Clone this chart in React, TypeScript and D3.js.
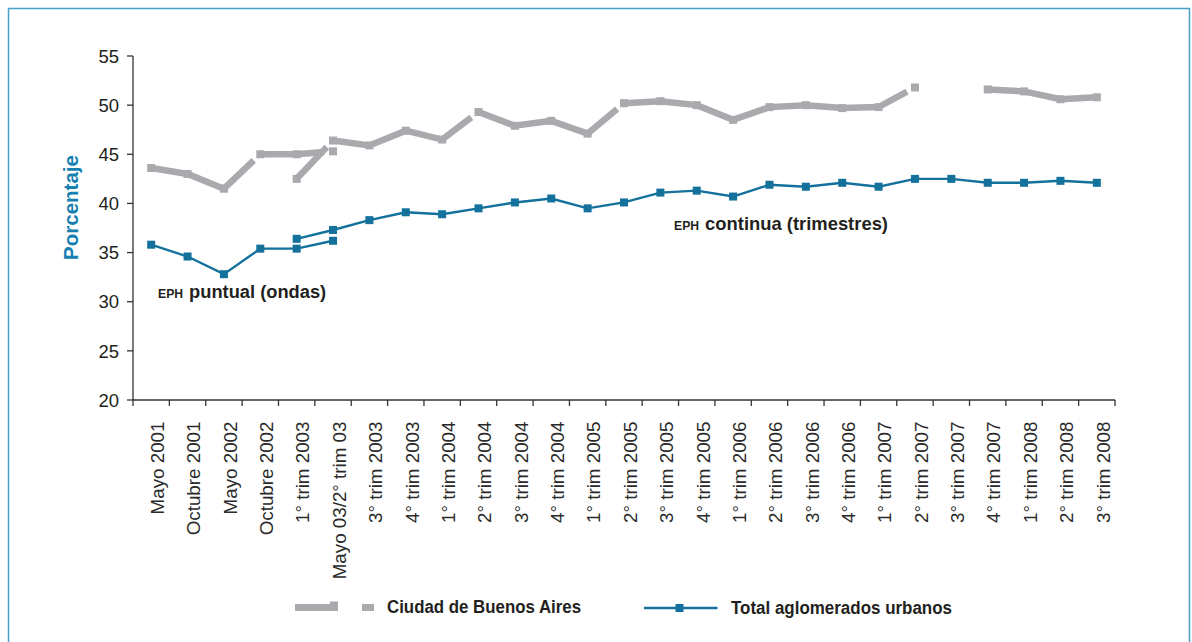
import React from "react";
import * as d3 from "d3";

const categories = [
  "Mayo 2001", "Octubre 2001", "Mayo 2002", "Octubre 2002", "1° trim 2003",
  "Mayo 03/2° trim 03", "3° trim 2003", "4° trim 2003", "1° trim 2004", "2° trim 2004",
  "3° trim 2004", "4° trim 2004", "1° trim 2005", "2° trim 2005", "3° trim 2005",
  "4° trim 2005", "1° trim 2006", "2° trim 2006", "3° trim 2006", "4° trim 2006",
  "1° trim 2007", "2° trim 2007", "3° trim 2007", "4° trim 2007", "1° trim 2008",
  "2° trim 2008", "3° trim 2008",
];

// EPH puntual (ondas): indices 0..5
const totalOndas = [35.8, 34.6, 32.8, 35.4, 35.4, 36.2];
const caOndas = [43.6, 43.0, 41.5, 45.0, 45.0, 45.3];
// EPH continua (trimestres): indices 4..26
const continuaStart = 4;
const totalTrim = [36.4, 37.3, 38.3, 39.1, 38.9, 39.5, 40.1, 40.5, 39.5, 40.1, 41.1, 41.3, 40.7, 41.9, 41.7, 42.1, 41.7, 42.5, 42.5, 42.1, 42.1, 42.3, 42.1];
const caTrim: (number | null)[] = [42.5, 46.4, 45.9, 47.4, 46.5, 49.3, 47.9, 48.4, 47.1, 50.2, 50.4, 50.0, 48.5, 49.8, 50.0, 49.7, 49.8, 51.8, null, 51.6, 51.4, 50.6, 50.8];
// category indices where the gray line is interrupted just before the point
const caBreaks = [3, 5, 9, 13, 21];

const yTicks = [20, 25, 30, 35, 40, 45, 50, 55];

const BLUE = "#13719c";
const GRAY = "#a9aaae";
const TEXT = "#231f20";

type Pt = { i: number; v: number };

function toPts(vals: (number | null)[], start: number): Pt[] {
  return vals.map((v, k) => ({ i: start + k, v: v as number })).filter((p) => p.v != null);
}

export default function App() {
  const W = 1192, H = 642;
  const x0 = 133, x1 = 1115, yTop = 56, yBot = 400;
  const x = d3.scaleBand<string>().domain(categories).range([x0, x1]).paddingInner(0).paddingOuter(0);
  const y = d3.scaleLinear().domain([20, 55]).range([yBot, yTop]);
  const cx = (i: number) => (x(categories[i]) as number) + x.bandwidth() / 2;
  const line = d3.line<[number, number]>().x((d) => d[0]).y((d) => d[1]);

  const totalPuntual = toPts(totalOndas, 0);
  const totalCont = toPts(totalTrim, continuaStart);
  const caPuntual = toPts(caOndas, 0);
  const caCont = toPts(caTrim, continuaStart);

  // Build gray paths: split at missing values and cut short before break points
  const GAP = 9;
  function grayPaths(pts: Pt[]): string[] {
    const paths: [number, number][][] = [];
    let cur: [number, number][] = [];
    for (let k = 0; k < pts.length; k++) {
      const p = pts[k];
      const P: [number, number] = [cx(p.i), y(p.v)];
      if (k > 0) {
        const prev = pts[k - 1];
        if (p.i - prev.i > 1) {
          if (cur.length) paths.push(cur);
          cur = [P];
          continue;
        }
        if (caBreaks.includes(p.i)) {
          const Q: [number, number] = [cx(prev.i), y(prev.v)];
          const dx = P[0] - Q[0], dy = P[1] - Q[1];
          const len = Math.hypot(dx, dy);
          const f = (len - GAP) / len;
          cur.push([Q[0] + dx * f, Q[1] + dy * f]);
          paths.push(cur);
          cur = [P];
          continue;
        }
      }
      cur.push(P);
    }
    if (cur.length) paths.push(cur);
    return paths.filter((c) => c.length > 1).map((c) => line(c) as string);
  }

  const grayAll = [...grayPaths(caPuntual), ...grayPaths(caCont)];
  const grayMarkers = [...caPuntual, ...caCont];
  const MS = 8;
  const SANS = "'Liberation Sans', Arial, sans-serif";

  return (
    <svg width={W} height={H} style={{ position: "absolute", left: 0, top: 0, background: "#fff" }}
      fontFamily={SANS}>
      <rect x={8.5} y={8.5} width={1181} height={660} fill="none" stroke="#4a9fc6" strokeWidth={1.5} />

      {/* Y axis */}
      <line x1={x0} x2={x0} y1={yTop} y2={yBot} stroke="#333" strokeWidth={1.3} />
      {yTicks.map((t) => (
        <g key={t}>
          <line x1={x0 - 6} x2={x0} y1={y(t)} y2={y(t)} stroke="#333" strokeWidth={1.3} />
          <text x={119} y={y(t)} dy="0.36em" textAnchor="end" fontSize={18.5} fill={TEXT}>{t}</text>
        </g>
      ))}
      <text transform={`translate(78,207.5) rotate(-90)`} textAnchor="middle"
        fontSize={20.5} fontWeight="bold" fill="#1680b0">Porcentaje</text>

      {/* X axis */}
      <line x1={x0} x2={x1} y1={yBot} y2={yBot} stroke="#333" strokeWidth={1.3} />
      {d3.range(categories.length + 1).map((k) => {
        const xx = x0 + k * x.step();
        return <line key={k} x1={xx} x2={xx} y1={yBot} y2={yBot + 6} stroke="#333" strokeWidth={1.3} />;
      })}
      {categories.map((c, i) => (
        <text key={c} transform={`translate(${cx(i) + 6},${yBot + 21.5}) rotate(-90)`} dy="0.36em"
          textAnchor="end" fontSize={18.8} fill="#2a2a2a">{c}</text>
      ))}

      {/* Gray series */}
      {grayAll.map((d, k) => (
        <path key={k} d={d} fill="none" stroke={GRAY} strokeWidth={6.5} strokeLinejoin="miter" />
      ))}
      {grayMarkers.map((p, k) => (
        <rect key={k} x={cx(p.i) - MS / 2} y={y(p.v) - MS / 2} width={MS} height={MS} fill={GRAY} />
      ))}

      {/* Blue series */}
      {[totalPuntual, totalCont].map((pts, k) => (
        <path key={k} d={line(pts.map((p) => [cx(p.i), y(p.v)] as [number, number])) as string}
          fill="none" stroke={BLUE} strokeWidth={2.4} />
      ))}
      {[...totalPuntual, ...totalCont].map((p, k) => (
        <rect key={k} x={cx(p.i) - MS / 2} y={y(p.v) - MS / 2} width={MS} height={MS} fill={BLUE} />
      ))}

      {/* Annotations */}
      <text x={158} y={298} fill={TEXT} fontWeight="bold">
        <tspan fontSize={12.2}>EPH</tspan>
        <tspan fontSize={18.3} dx={6}>puntual (ondas)</tspan>
      </text>
      <text x={674} y={230} fill={TEXT} fontWeight="bold">
        <tspan fontSize={12.2}>EPH</tspan>
        <tspan fontSize={18.4} dx={6}>continua (trimestres)</tspan>
      </text>

      {/* Legend */}
      <line x1={295} x2={338} y1={607.5} y2={607.5} stroke={GRAY} strokeWidth={7} />
      <rect x={330} y={601.5} width={8} height={9} fill={GRAY} />
      <rect x={362} y={604} width={12} height={7} fill={GRAY} />
      <text x={387} y={613.3} fontSize={17.5} fontWeight="bold" fill={TEXT}
        textLength={194} lengthAdjust="spacingAndGlyphs">Ciudad de Buenos Aires</text>
      <line x1={644} x2={717.5} y1={608} y2={608} stroke={BLUE} strokeWidth={2.4} />
      <rect x={679.5 - MS / 2} y={608 - MS / 2} width={MS} height={MS} fill={BLUE} />
      <text x={731} y={613.8} fontSize={17.5} fontWeight="bold" fill={TEXT}
        textLength={221} lengthAdjust="spacingAndGlyphs">Total aglomerados urbanos</text>
    </svg>
  );
}
